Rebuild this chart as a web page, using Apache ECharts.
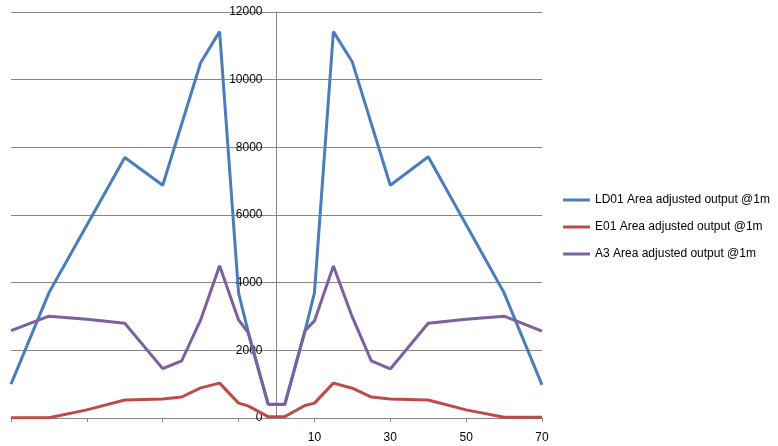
<!DOCTYPE html>
<html>
<head>
<meta charset="utf-8">
<script src="https://cdn.jsdelivr.net/npm/echarts@6/dist/echarts.min.js"></script>
<style>html,body{margin:0;padding:0;background:#fff;}#c{width:778px;height:446px;}</style>
</head>
<body>
<div id="c"></div>
<script>
// Series names
var seriesNames = ['LD01 Area adjusted output @1m', 'E01 Area adjusted output @1m', 'A3 Area adjusted output @1m'];

// LD01
var ld01X = [-70, -60, -40, -30, -20, -15, -10, -7.5, -2.2, 2.2, 7.5, 10, 15, 20, 30, 40, 60, 70];
var ld01Y = [1000, 3700, 7700, 6880, 10500, 11420, 3700, 2560, 400, 400, 2560, 3700, 11420, 10520, 6880, 7720, 3700, 980];

// E01
var e01X = [-70, -60, -50, -40, -30, -25, -20, -15, -10, -7.5, -2.2, 2.2, 7.5, 10, 15, 20, 25, 30, 40, 50, 60, 70];
var e01Y = [10, 10, 240, 530, 560, 620, 890, 1030, 440, 360, 40, 40, 370, 440, 1030, 880, 620, 560, 530, 240, 20, 20];

// A3
var a3X = [-70, -60, -50, -40, -30, -25, -20, -15, -10, -7.5, -2.2, 2.2, 7.5, 10, 15, 20, 25, 30, 40, 50, 60, 70];
var a3Y = [2580, 3010, 2920, 2800, 1460, 1690, 2900, 4500, 2900, 2530, 410, 410, 2580, 2870, 4490, 2980, 1690, 1450, 2800, 2920, 3010, 2570];

// Axis ticks / labels
var xTickValues = [-70, -50, -30, -10, 10, 30, 50, 70];
var xLabelValues = [10, 30, 50, 70];
var xMin = -70, xMax = 70;
var yMin = 0, yMax = 12000, yStep = 2000;

function pairs(xs, ys) { return xs.map(function (x, i) { return [x, ys[i]]; }); }

var colors = ['#4A7EBB', '#BE4B48', '#7D60A0'];
var W = 778, gridLeft = 11, gridRight = 236;
var gridW = W - gridLeft - gridRight;
// place the value axis at x = 0 of the horizontal scale
var yAxisOffset = -gridW * (0 - xMin) / (xMax - xMin);

var chart = echarts.init(document.getElementById('c'), null, { renderer: 'canvas' });
var fontFam = '"Liberation Sans", Arial, sans-serif';

chart.setOption({
  animation: false,
  color: colors,
  grid: { left: gridLeft, right: gridRight, top: 12, bottom: 28, containLabel: false, outerBoundsMode: 'none' },
  legend: {
    orient: 'vertical',
    left: 558,
    top: 189,
    icon: 'rect',
    itemWidth: 27,
    itemHeight: 3,
    itemGap: 15,
    textStyle: { fontFamily: fontFam, fontSize: 12, color: '#000' },
    data: seriesNames
  },
  xAxis: {
    type: 'value',
    min: xMin,
    max: xMax,
    axisLine: { show: true, onZero: true, lineStyle: { color: '#868686', width: 1 } },
    axisTick: { show: true, length: 4, customValues: xTickValues, lineStyle: { color: '#868686' } },
    axisLabel: { customValues: xLabelValues, margin: 14, fontFamily: fontFam, fontSize: 12, color: '#000',
      formatter: function (v) { return String(v); } },
    splitLine: { show: false }
  },
  yAxis: {
    type: 'value',
    position: 'left',
    offset: yAxisOffset,
    min: yMin,
    max: yMax,
    interval: yStep,
    axisLine: { show: true, onZero: false, lineStyle: { color: '#868686', width: 1 } },
    axisTick: { show: false },
    axisLabel: { margin: 14, fontFamily: fontFam, fontSize: 12, color: '#000',
      formatter: function (v) { return String(v); } },
    splitLine: { show: true, lineStyle: { color: '#868686', width: 1 } }
  },
  series: [
    { name: seriesNames[0], type: 'line', symbol: 'none', data: pairs(ld01X, ld01Y), lineStyle: { width: 3 }, z: 3 },
    { name: seriesNames[1], type: 'line', symbol: 'none', data: pairs(e01X, e01Y), lineStyle: { width: 3 }, z: 3 },
    { name: seriesNames[2], type: 'line', symbol: 'none', data: pairs(a3X, a3Y), lineStyle: { width: 3 }, z: 3 }
  ]
});
</script>
</body>
</html>
